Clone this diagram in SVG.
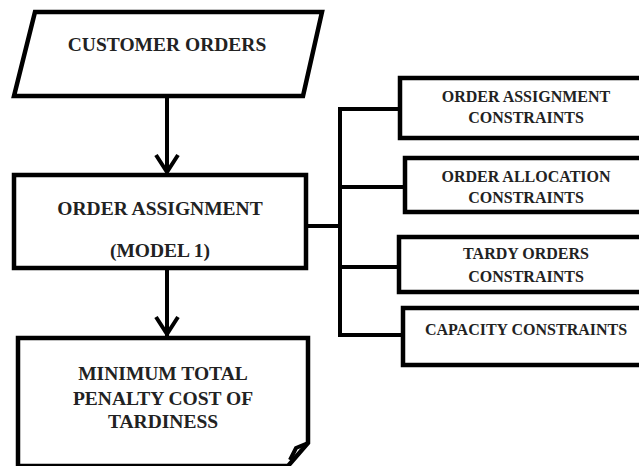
<svg xmlns="http://www.w3.org/2000/svg" width="639" height="466" viewBox="0 0 639 466">
<style>
.box{fill:#fff;stroke:#000;stroke-width:4.5;stroke-linejoin:miter}
.ln{fill:none;stroke:#000;stroke-width:4}
.t{font-family:"Liberation Serif","Times New Roman",serif;font-weight:bold;fill:#222;text-anchor:middle}
.big{font-size:19.5px}
.sm{font-size:16px}
</style>
<rect width="639" height="466" fill="#fff"/>
<g id="connectors">
<line class="ln" x1="167" y1="96" x2="167" y2="172"/>
<polyline class="ln" points="156,155 167,172 178,155"/>
<line class="ln" x1="167" y1="268" x2="167" y2="336"/>
<polyline class="ln" points="156,317 167,334 178,317"/>
<line class="ln" x1="306" y1="226" x2="340" y2="226"/>
<line class="ln" x1="340" y1="107" x2="340" y2="337"/>
<line class="ln" x1="338" y1="109" x2="400" y2="109"/>
<line class="ln" x1="338" y1="187" x2="405" y2="187"/>
<line class="ln" x1="338" y1="267" x2="399" y2="267"/>
<line class="ln" x1="338" y1="335" x2="403" y2="335"/>
</g>
<g id="customer-orders">
<polygon class="box" points="35,12 322,12 303,96 14,96"/>
<text class="t big" x="167" y="51">CUSTOMER ORDERS</text>
</g>
<g id="order-assignment">
<rect class="box" x="14" y="175" width="292" height="93"/>
<text class="t big" x="160" y="215">ORDER ASSIGNMENT</text>
<text class="t big" x="160" y="257">(MODEL 1)</text>
</g>
<g id="minimum-penalty">
<path class="box" d="M18,338 L308,338 L308,443 L288,466 L18,466 Z"/>
<path class="ln" d="M308,443 L296,448 L290,460" stroke-width="3"/>
<text class="t big" x="163" y="380">MINIMUM TOTAL</text>
<text class="t big" x="163" y="405">PENALTY COST OF</text>
<text class="t big" x="163" y="428">TARDINESS</text>
</g>
<g id="order-assignment-constraints">
<rect class="box" x="400" y="78" width="250" height="60"/>
<text class="t sm" x="526" y="102">ORDER ASSIGNMENT</text>
<text class="t sm" x="526" y="123">CONSTRAINTS</text>
</g>
<g id="order-allocation-constraints">
<rect class="box" x="405" y="158" width="245" height="54"/>
<text class="t sm" x="526" y="182">ORDER ALLOCATION</text>
<text class="t sm" x="526" y="203">CONSTRAINTS</text>
</g>
<g id="tardy-orders-constraints">
<rect class="box" x="399" y="237" width="251" height="55"/>
<text class="t sm" x="526" y="259">TARDY ORDERS</text>
<text class="t sm" x="526" y="282">CONSTRAINTS</text>
</g>
<g id="capacity-constraints">
<rect class="box" x="403" y="308" width="247" height="57"/>
<text class="t sm" x="526" y="335">CAPACITY CONSTRAINTS</text>
</g>
</svg>
